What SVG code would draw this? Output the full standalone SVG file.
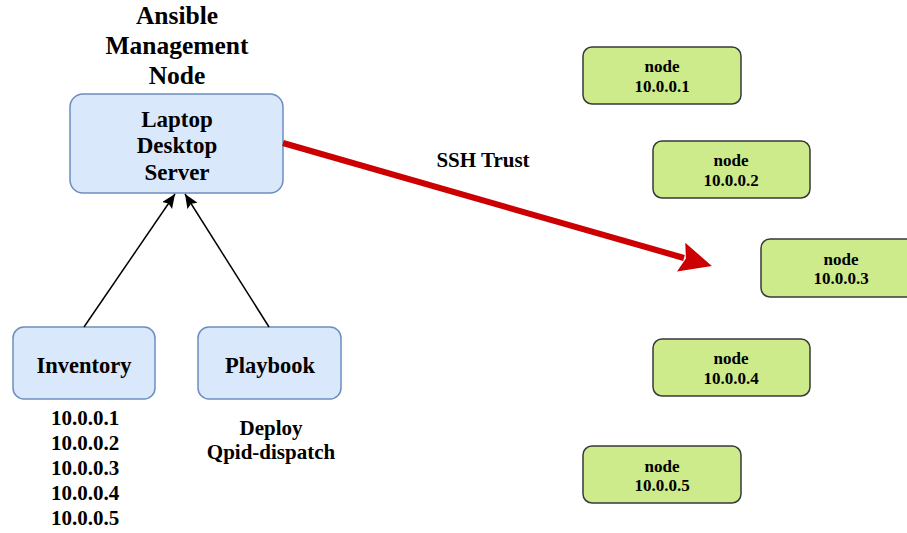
<svg xmlns="http://www.w3.org/2000/svg" width="907" height="533" viewBox="0 0 907 533">
<style>
text{font-family:"Liberation Serif","Times New Roman",serif;font-weight:bold;fill:#000;text-anchor:middle}
.blue{fill:#dae8fc;stroke:#6c8ebf;stroke-width:1.5}
.green{fill:#cdeb8b;stroke:#36393d;stroke-width:1.5}
.t25{font-size:25.5px}
.t23{font-size:23px}
.t22{font-size:22.5px}
.t21{font-size:21px}
.t17{font-size:17px}
.blk{stroke:#000;stroke-width:1.5;fill:none}
.red{stroke:#cc0000;stroke-width:6;fill:none}
</style>
<defs>
<marker id="blkHead" markerUnits="userSpaceOnUse" markerWidth="16" markerHeight="14" viewBox="0 0 16 14" refX="14" refY="6" orient="auto">
<path d="M0,0 L14,6 L0,12 L2.5,6 z" fill="#000"/>
</marker>
<marker id="redHead" markerUnits="userSpaceOnUse" markerWidth="34" markerHeight="32" viewBox="0 0 34 32" refX="3" refY="15" orient="auto">
<path d="M0,0 L32,15 L0,30 L5,15 z" fill="#cc0000"/>
</marker>
</defs>

<g id="title">
<text class="t25" x="177" y="24">Ansible</text>
<text class="t25" x="177" y="54">Management</text>
<text class="t25" x="177" y="84">Node</text>
</g>

<g id="mgmt">
<rect class="blue" x="70" y="94" width="213" height="99" rx="13"/>
<text class="t23" x="177" y="127">Laptop</text>
<text class="t23" x="177" y="153">Desktop</text>
<text class="t23" x="177" y="180">Server</text>
</g>

<g id="inventory">
<rect class="blue" x="13" y="327" width="142" height="72" rx="11"/>
<text class="t22" x="84" y="373">Inventory</text>
</g>
<g id="inventory-list">
<text class="t21" x="85" y="425">10.0.0.1</text>
<text class="t21" x="85" y="450">10.0.0.2</text>
<text class="t21" x="85" y="475">10.0.0.3</text>
<text class="t21" x="85" y="500">10.0.0.4</text>
<text class="t21" x="85" y="525">10.0.0.5</text>
</g>

<g id="playbook">
<rect class="blue" x="198" y="327" width="143" height="72" rx="11"/>
<text class="t22" x="270" y="373">Playbook</text>
</g>
<g id="playbook-label">
<text class="t21" x="271" y="435">Deploy</text>
<text class="t21" x="271" y="459">Qpid-dispatch</text>
</g>

<g id="node1">
<rect class="green" x="583" y="47" width="158" height="57" rx="9"/>
<text class="t17" x="662" y="72">node</text>
<text class="t17" x="662" y="92">10.0.0.1</text>
</g>
<g id="node2">
<rect class="green" x="653" y="141" width="157" height="57" rx="9"/>
<text class="t17" x="731" y="166">node</text>
<text class="t17" x="731" y="186">10.0.0.2</text>
</g>
<g id="node3">
<rect class="green" x="761" y="239" width="158" height="58" rx="9"/>
<text class="t17" x="841" y="265">node</text>
<text class="t17" x="841" y="284">10.0.0.3</text>
</g>
<g id="node4">
<rect class="green" x="653" y="339" width="157" height="57" rx="9"/>
<text class="t17" x="731" y="364">node</text>
<text class="t17" x="731" y="384">10.0.0.4</text>
</g>
<g id="node5">
<rect class="green" x="583" y="446" width="158" height="57" rx="9"/>
<text class="t17" x="662" y="472">node</text>
<text class="t17" x="662" y="491">10.0.0.5</text>
</g>

<g id="connectors">
<line class="blk" x1="84" y1="327" x2="175" y2="194" marker-end="url(#blkHead)"/>
<line class="blk" x1="269" y1="327" x2="185" y2="194" marker-end="url(#blkHead)"/>
<line class="red" x1="283" y1="143" x2="684" y2="258" marker-end="url(#redHead)"/>
<text class="t21" x="483" y="167">SSH Trust</text>
</g>
</svg>
